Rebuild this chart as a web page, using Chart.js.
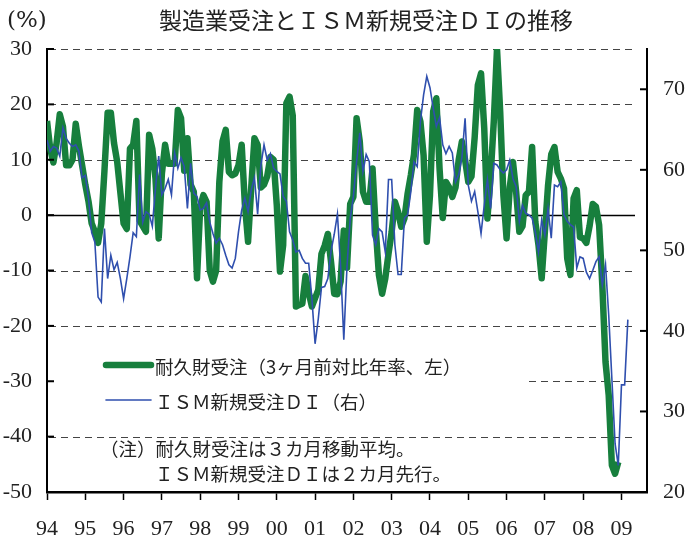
<!DOCTYPE html>
<html lang="ja">
<head>
  <meta charset="UTF-8">
  <title>製造業受注とＩＳＭ新規受注ＤＩの推移</title>
  <script src="https://cdn.jsdelivr.net/npm/chart.js"></script>
  <style>
    html, body { margin: 0; padding: 0; background: #fff; }
    .chart-container { width: 687px; height: 544px; }
  </style>
</head>
<body>
  <div class="chart-container">
    <canvas id="chartCanvas" width="687" height="544"></canvas>
  </div>

  <script>
    // monthly from Jan 1994
    const startYear = 1994;
    const yearLabels = ['94','95','96','97','98','99','00','01','02','03','04','05','06','07','08','09'];
    const leftTicks = [-50, -40, -30, -20, -10, 0, 10, 20, 30];
    const rightTicks = [20, 30, 40, 50, 60, 70];

    // 耐久財受注（3ヶ月前対比年率、左）
    const durableOrders = [
      17, 12, 9.5, 13, 18.2, 16, 9, 9, 10, 16.5, 12.5, 9,
      5.5, 2.5, -1.5, -3, -5, -1.5, 8, 18.5, 18.5, 13, 9.6, 4,
      -1.5, -2.5, 12, 12.7, 17, -1, -2, -3, 14.5, 12, 6.6, -4.2,
      7.5, 12.7, 9.3, 9.3, 9.3, 19, 17.5, 8, 13.9, 5.5, 4.2, -11.4,
      1.5, 3.6, 2.4, -10, -12, -10, 6, 13.3, 15.4, 7.8, 7.2, 7.5,
      9, 12.7, 2, -4.8, 5, 13.9, 12.7, 5, 5.5, 7, 10.5, 10,
      1.8, -10.2, -5.4, 20.2, 21.4, 18, -16.5, -16.2, -16, -11, -14, -16.5,
      -15, -13.5, -7, -5.5, -3.4, -8.5, -14.2, -14.3, -12, -2.8, -9.5, 2,
      3.3, 17.5, 13.3, 4.2, 2.4, 2.4, 8.4, -2.4, -10.8, -14.2, -11.4, -7,
      -3, 2.4, 0.6, -2.1, -0.6, 3.9, 7.2, 11, 19, 16.9, 10.8, -4.8,
      3.6, 18.7, 21.1, 8.4, -0.5, 6, 5, 3.3, 5, 10, 13.3, 10,
      6, 7, 14, 23.5, 25.6, 15.7, -0.6, 7, 17, 30, 18.7, 3.6,
      -4.2, 5, 9.6, 4.2, -3, -2, 3.6, 4.2, 12.3, -1.2, -5.4, -11.4,
      -3, 5.4, 11, 12.3, 7.8, 6.6, 4.8, -7.8, -10.8, 3, 4.5, -4,
      -4.2, -5, -2, 2, 1.5, -1.8, -12.7, -26.5, -32.5, -45.2, -46.7, -44.6
    ];

    // ＩＳＭ新規受注ＤＩ（右）, 2カ月先行
    const ismNewOrders = [
      63.7, 62.3, 62.9, 62.7, 61.7, 65.2, 63.9, 63.3, 62.9, 63.1, 62.3, 59,
      59.3, 56.5, 52.2, 51, 44.2, 43.6, 52.7, 46.5, 49.4, 47.6, 48.5, 46.5,
      44, 46.5, 49.2, 52.2, 51.7, 59.4, 53.5, 54.8, 54.5, 53, 57.7, 61.7,
      56.9, 57.7, 58.8, 56.9, 62.1, 60.2, 61.5, 60.4, 55.2, 60.8, 57.1, 56.7,
      55, 55.2, 55.9, 53.5, 52.1, 50.9, 51.5, 50.7, 49.4, 48.2, 47.8, 49,
      52.3, 55, 56.5, 54.8, 57.5, 59, 54.5, 60.5, 63.1, 61.2, 62, 60.2,
      59.8, 59.5, 56.7, 56.1, 52.3, 51.3, 49.8, 50, 49, 48.4, 48.4, 44,
      38.4, 41.5, 45.4, 45.5, 46.5, 49.9, 52, 54.5, 48, 38.9, 48, 53.9,
      56.7, 61, 64.6, 59.8, 61.9, 61, 51.9, 50.7, 52.7, 52.3, 49.8, 58.8,
      58.8, 50.7, 47, 47, 54, 54.4, 57.3, 61, 60.4, 66, 69.3, 71.6,
      70.2, 67.7, 65.4, 66.5, 63.1, 62, 62.9, 62.1, 58.5, 59.4, 61.5, 66.4,
      58.1, 56.1, 57.3, 54.8, 52.1, 55.6, 58.8, 55.2, 60.8, 60.6, 60, 59.6,
      60, 61.2, 58.9, 57.9, 53.6, 55.6, 54.6, 54.4, 54, 52.3, 49.8, 53.8,
      51.9, 55.2, 51.5, 58.1, 57.9, 58.5, 54.4, 53.6, 53.2, 52.9, 47.8, 49.2,
      49, 47.3, 46.5, 47.5, 48.6, 49.2, 45.7, 48.2, 42, 34, 26, 23.3,
      33.3, 33.3, 41.4
    ];

    const toPoints = arr => arr.map((v, i) => ({ x: startYear + i / 12, y: v }));

    const numFamily = 'Liberation Serif';
    const numFont = { family: numFamily, size: 22 };
    const jpFont = '"Noto Sans CJK JP", sans-serif';
    const textColor = '#222';

    const framePlugin = {
      id: 'frame',
      beforeDatasetsDraw(chart) {
        const ctx = chart.ctx;
        const area = chart.chartArea;
        const yL = chart.scales.y;
        const xEnd = area.right - 12;
        ctx.save();
        ctx.lineWidth = 1;
        ctx.strokeStyle = '#444';
        ctx.setLineDash([7, 5]);
        leftTicks.forEach(v => {
          if (v === 0 || v === -50) return;
          const py = Math.round(yL.getPixelForValue(v)) + 0.5;
          ctx.beginPath();
          ctx.moveTo(area.left + 2, py);
          ctx.lineTo(xEnd, py);
          ctx.stroke();
        });
        ctx.setLineDash([]);
        // legend box covers the grid
        ctx.fillStyle = '#fff';
        ctx.fillRect(area.left + 2, 342, 478, 80);
        // zero line
        const p0 = Math.round(yL.getPixelForValue(0)) + 0.5;
        ctx.strokeStyle = '#000';
        ctx.lineWidth = 1.6;
        ctx.beginPath();
        ctx.moveTo(area.left, p0);
        ctx.lineTo(xEnd, p0);
        ctx.stroke();
        ctx.restore();
      },
      afterDatasetsDraw(chart) {
        const ctx = chart.ctx;
        const area = chart.chartArea;
        ctx.save();
        // inward tick marks
        ctx.strokeStyle = '#000';
        ctx.lineWidth = 2;
        leftTicks.forEach(v => {
          const py = chart.scales.y.getPixelForValue(v);
          ctx.beginPath();
          ctx.moveTo(area.left, py);
          ctx.lineTo(area.left + 7, py);
          ctx.stroke();
        });
        rightTicks.forEach(v => {
          const py = chart.scales.y2.getPixelForValue(v);
          ctx.beginPath();
          ctx.moveTo(area.right, py);
          ctx.lineTo(area.right - 7, py);
          ctx.stroke();
        });

        // legend
        const ds = chart.data.datasets;
        const rows = [
          { d: ds[1], y: 365 },
          { d: ds[0], y: 400 }
        ];
        ctx.font = '18.5px ' + jpFont;
        ctx.textBaseline = 'middle';
        ctx.textAlign = 'left';
        rows.forEach(r => {
          ctx.strokeStyle = r.d.borderColor;
          ctx.lineWidth = r.d.borderWidth;
          ctx.lineCap = 'round';
          ctx.beginPath();
          ctx.moveTo(106, r.y);
          ctx.lineTo(151, r.y);
          ctx.stroke();
          ctx.fillStyle = textColor;
          ctx.fillText(r.d.label, 155, r.y + 2);
        });

        // notes
        ctx.fillText('（注）耐久財受注は３カ月移動平均。', 100, 449);
        ctx.fillText('ＩＳＭ新規受注ＤＩは２カ月先行。', 155, 474);

        // title and unit
        ctx.font = '23px ' + jpFont;
        ctx.textAlign = 'center';
        ctx.fillText('製造業受注とＩＳＭ新規受注ＤＩの推移', 366, 20);
        ctx.font = '23px "DejaVu Serif"';
        ctx.textAlign = 'left';
        ctx.fillText('(%)', 7, 21);
        ctx.restore();
      }
    };

    const ctx = document.getElementById('chartCanvas').getContext('2d');
    const chart = new Chart(ctx, {
      type: 'line',
      data: {
        datasets: [{
          label: 'ＩＳＭ新規受注ＤＩ（右）',
          data: toPoints(ismNewOrders),
          yAxisID: 'y2',
          borderColor: '#2f4fae',
          borderWidth: 1.6,
          pointRadius: 0,
          fill: false,
          order: 1
        }, {
          label: '耐久財受注（3ヶ月前対比年率、左）',
          data: toPoints(durableOrders),
          yAxisID: 'y',
          borderColor: '#177f3d',
          borderWidth: 6.5,
          borderJoinStyle: 'round',
          pointRadius: 0,
          fill: false,
          order: 2
        }]
      },
      options: {
        responsive: false,
        animation: false,
        events: [],
        layout: { padding: { top: 49, left: 0, right: 0, bottom: 0 } },
        plugins: {
          legend: { display: false },
          tooltip: { enabled: false },
          title: { display: false }
        },
        scales: {
          x: {
            type: 'linear',
            position: 'bottom',
            min: startYear,
            max: 2009 + 8 / 12,
            afterBuildTicks: s => { s.ticks = yearLabels.map((l, k) => ({ value: startYear + k })); },
            afterFit: s => { s.height = 52; },
            ticks: {
              callback: (v, idx) => yearLabels[idx],
              font: numFont,
              color: textColor,
              padding: 16,
              maxRotation: 0,
              autoSkip: false
            },
            grid: { drawOnChartArea: false, drawTicks: true, tickLength: 8, tickColor: '#000', tickWidth: 1.5 },
            border: { display: true, color: '#000', width: 2.5 }
          },
          y: {
            position: 'left',
            min: -50,
            max: 30,
            afterBuildTicks: s => { s.ticks = leftTicks.map(v => ({ value: v })); },
            afterFit: s => { s.width = 47; },
            ticks: { font: numFont, color: textColor, padding: 15 },
            grid: { drawOnChartArea: false, drawTicks: false },
            border: { display: true, color: '#000', width: 2 }
          },
          y2: {
            position: 'right',
            min: 20,
            max: 75,
            afterBuildTicks: s => { s.ticks = rightTicks.map(v => ({ value: v })); },
            afterFit: s => { s.width = 40; },
            ticks: { font: numFont, color: textColor, padding: 16 },
            grid: { drawOnChartArea: false, drawTicks: false },
            border: { display: true, color: '#000', width: 2 }
          }
        }
      },
      plugins: [framePlugin]
    });
  </script>
</body>
</html>
